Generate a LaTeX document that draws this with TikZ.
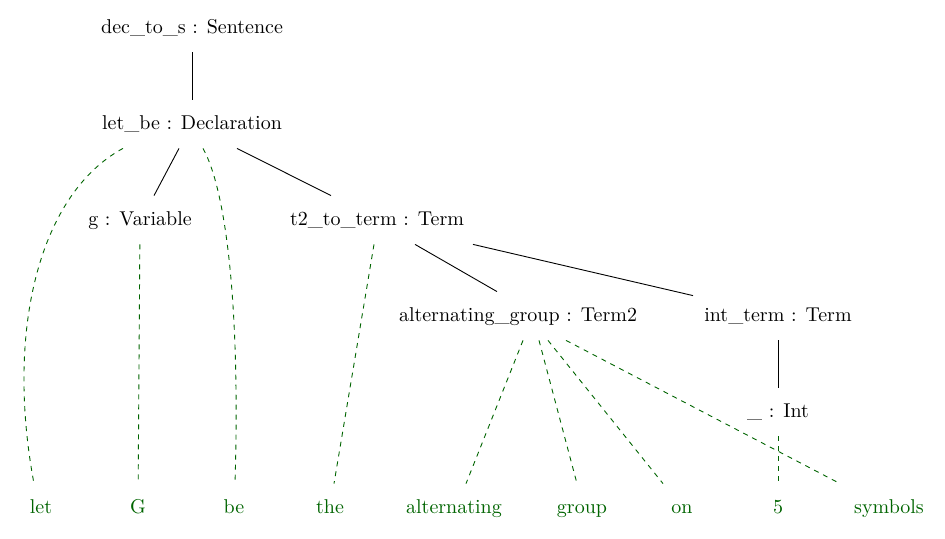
\documentclass[tikz,border=0pt]{standalone}
\usepackage{xcolor}
\usepackage{tikz}
\usetikzlibrary{positioning}
\definecolor{verdeescuro}{RGB}{0,100,0}
\tikzset{
  noarv/.style={rectangle,minimum height=24pt,inner sep=1pt,
    text height=1.5ex,text depth=.25ex,font=\fontsize{10}{12}\selectfont},
  folha/.style={noarv,text=verdeescuro},
  ramo/.style={black,line width=0.45pt},
  lig/.style={verdeescuro,line width=0.45pt,dash pattern=on 2.5pt off 2.5pt}
}
\begin{document}
\begin{tikzpicture}[x=0.5pt,y=-0.5pt]
\useasboundingbox (0,0) rectangle (945,539);
% arvore
\node[noarv] (dec) at (192,28) {dec\_to\_s : Sentence};
\node[noarv] (letbe) at (192,124) {let\_be : Declaration};
\node[noarv] (var) at (140,220) {g : Variable};
\node[noarv] (tterm) at (377,220) {t2\_to\_term : Term};
\node[noarv] (altg) at (518,316) {alternating\_group : Term2};
\node[noarv] (intt) at (778,316) {int\_term : Term};
\node[noarv] (und) at (778,412) {\_ : Int};
% palavras
\node[folha] (wlet) at (41,508) {let};
\node[folha] (wG) at (138,508) {G};
\node[folha] (wbe) at (234,508) {be};
\node[folha] (wthe) at (330,508) {the};
\node[folha] (walt) at (454,508) {alternating};
\node[folha] (wgroup) at (582,508) {group};
\node[folha] (won) at (682,508) {on};
\node[folha] (wfive) at (778,508) {5};
\node[folha] (wsym) at (889,508) {symbols};
% ramos
\draw[ramo] (dec) -- (letbe);
\draw[ramo] ([xshift=-6.5pt]letbe.south) -- ([xshift=7pt]var.north);
\draw[ramo] ([xshift=22.5pt]letbe.south) -- ([xshift=-23pt]tterm.north);
\draw[ramo] ([xshift=19pt]tterm.south) -- ([xshift=-10.5pt]altg.north);
\draw[ramo] ([xshift=48pt]tterm.south) -- ([xshift=-42.5pt,yshift=-2pt]intt.north);
\draw[ramo] (intt) -- (und);
% ligacoes com as palavras
\draw[lig] ([xshift=-34.5pt]letbe.south) .. controls +(-83,45) and +(-29,-155) .. ([xshift=-3.5pt]wlet.north);
\draw[lig] ([xshift=5.5pt]letbe.south) .. controls +(25,45) and +(5,-165) .. ([xshift=.5pt]wbe.north);
\draw[lig] (var) -- (wG);
\draw[lig] ([xshift=-1.5pt]tterm.south) -- ([xshift=2pt]wthe.north);
\draw[lig] ([xshift=2.5pt]altg.south) -- ([xshift=6pt]walt.north);
\draw[lig] ([xshift=10.5pt]altg.south) -- ([xshift=-2.5pt]wgroup.north);
\draw[lig] ([xshift=15pt]altg.south) -- ([xshift=-9.5pt]won.north);
\draw[lig] ([xshift=24pt]altg.south) -- ([xshift=-24.5pt]wsym.north);
\draw[lig] (und) -- (wfive);
\end{tikzpicture}
\end{document}
